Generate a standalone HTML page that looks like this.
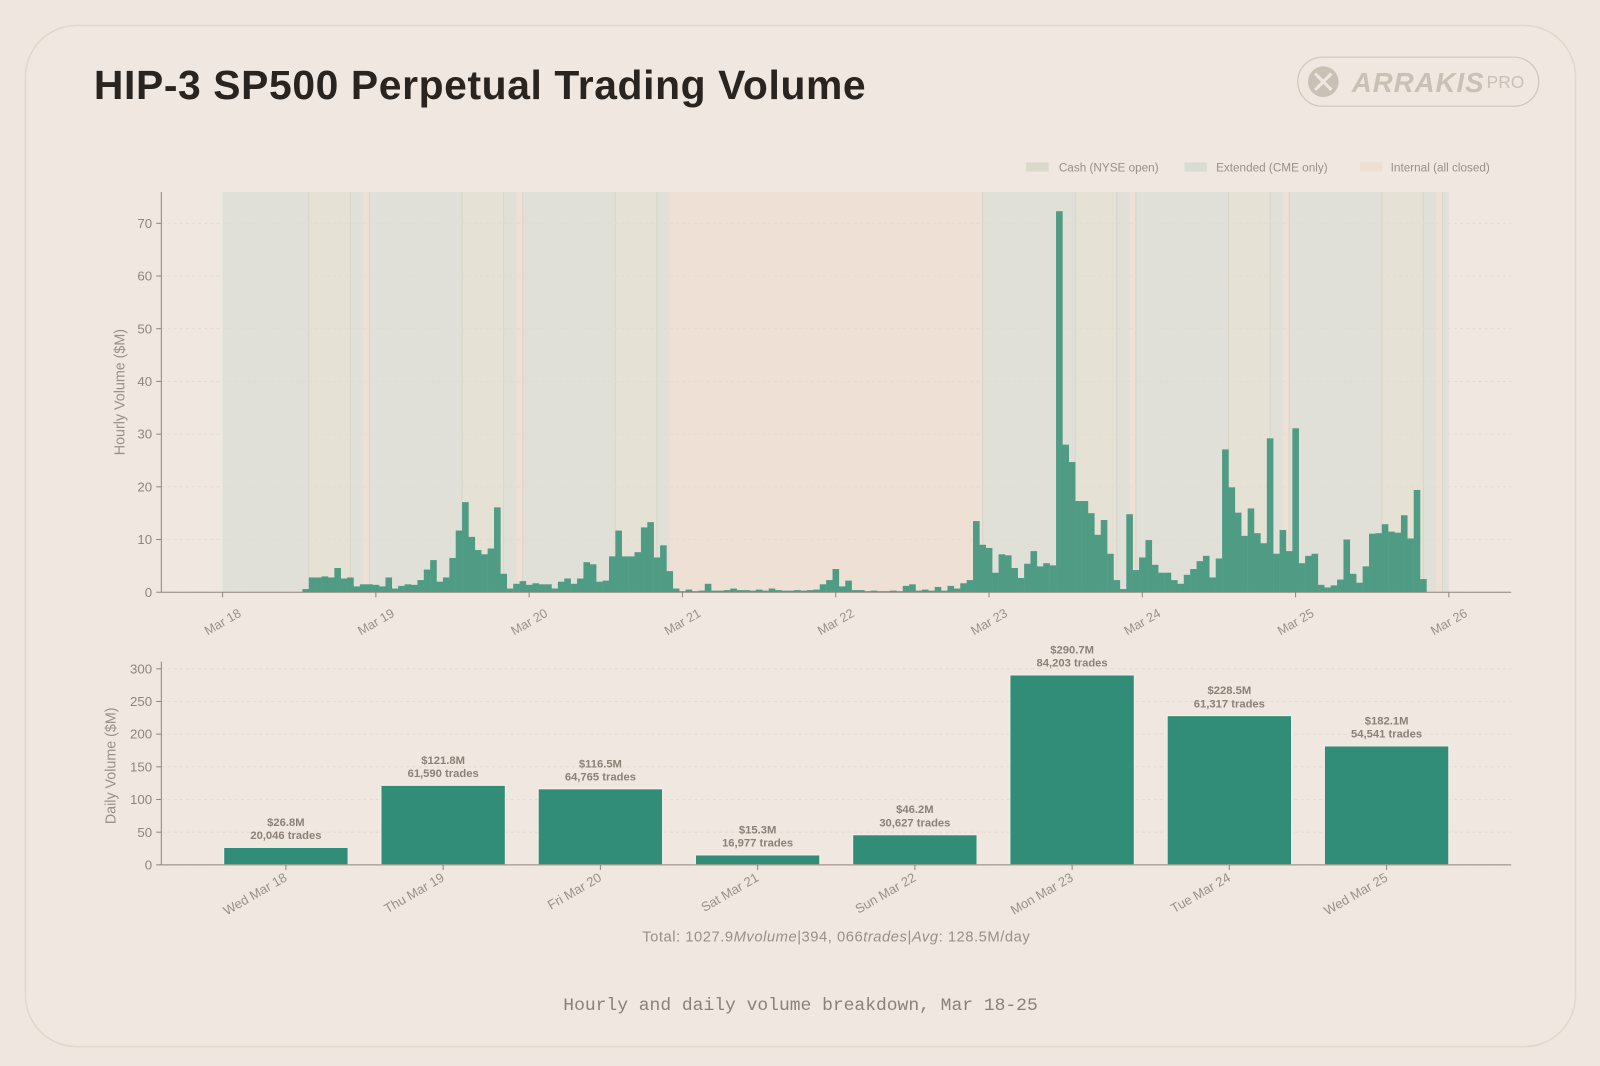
<!DOCTYPE html>
<html><head><meta charset="utf-8"><style>
html,body{margin:0;padding:0;background:#efe6df;}
svg{display:block;}
text{font-family:"Liberation Sans","DejaVu Sans",sans-serif;}
</style></head><body>
<svg id="root" width="1600" height="1066" viewBox="0 0 1567 1044" xmlns="http://www.w3.org/2000/svg">
<rect x="0" y="0" width="1567" height="1044" fill="#efe6df"/>
<rect x="25" y="25" width="1518" height="1000" rx="50" fill="#efe7e0" stroke="#e1d7cb" stroke-width="1.5"/>
<text x="92" y="97" font-size="40" font-weight="bold" fill="#2a2420" letter-spacing="0.6">HIP-3 SP500 Perpetual Trading Volume</text>
<g>
<rect x="1271" y="56" width="236" height="48" rx="24" fill="none" stroke="#d0c7bc" stroke-width="1.2"/>
<circle cx="1296" cy="80" r="15" fill="#c9c0b6"/>
<path d="M1288 72 L1304 88 M1304 72 L1288 88" stroke="#efe7e0" stroke-width="3"/>
<text x="1324" y="90" font-size="27" font-weight="bold" font-style="italic" fill="#c9c0b6" letter-spacing="1">ARRAKIS</text>
<text x="1456" y="86" font-size="17" fill="#c9c0b6">PRO</text>
</g>
<g font-size="11.5" fill="#9a9088">
<g><rect x="1005" y="159" width="22" height="9" fill="#dcd9cc"/><text x="1037" y="168">Cash (NYSE open)</text></g>
<g><rect x="1160" y="159" width="22" height="9" fill="#d7ddd3"/><text x="1191" y="168">Extended (CME only)</text></g>
<g><rect x="1332" y="159" width="22" height="9" fill="#eedfd3"/><text x="1362" y="168">Internal (all closed)</text></g>
</g>
<g id="hourly"></g>
<g id="daily"></g>
<text x="819" y="922" font-size="14.5" fill="#9a9088" text-anchor="middle" letter-spacing="0.5">Total: 1027.9<tspan font-style="italic">Mvolume</tspan>|394, 066<tspan font-style="italic">trades</tspan>|<tspan font-style="italic">Avg</tspan>: 128.5M/day</text>
<text x="784" y="989" font-size="17.6" fill="#8b8178" text-anchor="middle" style="font-family:'Liberation Mono',monospace">Hourly and daily volume breakdown, Mar 18-25</text>
</svg>
<script>
const hourStart = 13;
const hourlyValues = [0.6,2.8,2.8,3.0,2.8,4.6,2.6,2.8,1.1,1.5,1.5,1.4,1.1,2.8,0.7,1.2,1.5,1.4,2.3,4.3,6.1,2.0,2.8,6.5,11.7,17.1,10.5,8.0,7.2,8.3,16.1,3.5,0.7,1.6,2.1,1.4,1.7,1.5,1.5,0.7,2.0,2.6,1.6,2.6,5.7,5.3,2.0,2.2,6.8,11.7,6.8,6.8,7.6,12.3,13.3,6.6,8.9,4.0,0.7,
0.2,0.5,0.2,0.3,1.6,0.3,0.3,0.4,0.7,0.4,0.4,0.3,0.5,0.3,0.7,0.4,0.3,0.3,0.4,0.3,0.4,0.5,1.5,2.3,4.4,1.1,2.2,0.4,0.4,0.2,0.3,0.2,0.2,0.3,0.2,1.2,1.5,0.3,0.5,0.3,1.0,0.3,1.2,0.7,1.7,2.3,13.5,9.0,8.4,3.7,7.2,7.0,4.6,2.7,5.4,7.8,4.9,5.5,5.1,72.3,28.0,24.7,17.3,17.3,15.0,10.9,13.7,7.3,2.3,0.6,14.8,4.2,6.6,9.9,5.2,3.7,3.7,2.3,1.6,3.3,4.4,5.9,6.9,2.8,6.4,27.1,19.9,15.1,10.7,15.9,11.2,9.3,29.2,7.3,11.8,7.8,31.1,5.5,6.9,7.3,1.4,0.9,1.3,2.4,10.0,3.5,1.8,4.9,11.1,11.2,12.9,11.5,11.3,14.6,10.2,19.4,2.5];
const hourTicks = ["Mar 18","Mar 19","Mar 20","Mar 21","Mar 22","Mar 23","Mar 24","Mar 25","Mar 26"];
const hourYTicks = [0,10,20,30,40,50,60,70];
const dayLabels = ["Wed Mar 18","Thu Mar 19","Fri Mar 20","Sat Mar 21","Sun Mar 22","Mon Mar 23","Tue Mar 24","Wed Mar 25"];
const dayVolumes = [26.8,121.8,116.5,15.3,46.2,290.7,228.5,182.1];
const dayTrades = ["20,046","61,590","64,765","16,977","30,627","84,203","61,317","54,541"];
const dayYTicks = [0,50,100,150,200,250,300];

const NS="http://www.w3.org/2000/svg";
function mk(parent,tag,attrs,txt){const e=document.createElementNS(NS,tag);for(const k in attrs)e.setAttribute(k,attrs[k]);if(txt!==undefined)e.textContent=txt;parent.appendChild(e);return e;}

const H=document.getElementById('hourly');
const xh=h=>218+h*6.255;
const yh=v=>580-v*(361.3/70);
const bands=[];
for(let d=0;d<8;d++){
  const wk=(d!==3&&d!==4);
  if(wk){bands.push([d*24+13.5,d*24+20,'#e5e2d5','cash']);}
}
let segs=[[0,192,'#e0e0d9','extended']];
const bg=mk(H,'g',{});


segs.forEach(s=>{const r=mk(bg,'rect',{x:xh(s[0]),y:188,width:xh(s[1])-xh(s[0]),height:392,fill:s[2]});});
bands.forEach(s=>{const r=mk(bg,'rect',{x:xh(s[0]),y:188,width:xh(s[1])-xh(s[0]),height:392,fill:s[2]});
 mk(bg,'line',{x1:xh(s[0]),x2:xh(s[0]),y1:188,y2:580,stroke:'#d8d4c9','stroke-width':1});
 mk(bg,'line',{x1:xh(s[1]),x2:xh(s[1]),y1:188,y2:580,stroke:'#d8d4c9','stroke-width':1});});
const internal=[[22,23],[46,47],[70,119],[142,143],[166,167],[190,191]];
internal.forEach(s=>{const r=mk(bg,'rect',{x:xh(s[0]),y:188,width:xh(s[1])-xh(s[0]),height:392,fill:'#eee0d4'});
 mk(bg,'line',{x1:xh(s[1]),x2:xh(s[1]),y1:188,y2:580,stroke:'#d8d4c9','stroke-width':1});});
hourYTicks.forEach(v=>{
  mk(H,'line',{x1:158,x2:1480,y1:yh(v),y2:yh(v),stroke:'#e3d9cd','stroke-width':0.8,'stroke-dasharray':'3,3'});
  mk(H,'line',{x1:153,x2:158,y1:yh(v),y2:yh(v),stroke:'#8f857c'});
  const t=mk(H,'text',{x:149,y:yh(v)+4.5,'font-size':13,fill:'#8f857c','text-anchor':'end'},String(v));
  
  
});
hourlyValues.forEach((v,i)=>{const h=hourStart+i;
  const b=mk(H,'rect',{x:xh(h-0.5),y:yh(v),width:xh(h+0.5)-xh(h-0.5)+0.2,height:580-yh(v),fill:'#4f9b84'});
  
  
});
mk(H,'line',{x1:158,x2:158,y1:188,y2:580,stroke:'#8f857c','stroke-width':1});
mk(H,'line',{x1:158,x2:1480,y1:580,y2:580,stroke:'#8f857c','stroke-width':1});
hourTicks.forEach((l,i)=>{const x=xh(i*24);
  mk(H,'line',{x1:x,x2:x,y1:580,y2:585,stroke:'#8f857c'});
  const tx=x+19, ty=603;
  const t=mk(H,'text',{x:tx,y:ty,'font-size':12.5,fill:'#9a9088','text-anchor':'end',transform:`rotate(-30 ${tx} ${ty})`},l);
  
  
});
const yt=mk(H,'text',{x:122,y:384,'font-size':14,fill:'#9a9088','text-anchor':'middle',transform:'rotate(-90 122 384)'},'Hourly Volume ($M)');



const D=document.getElementById('daily');
const xd=i=>280+i*154;
const yd=v=>847-v*(192/300);
dayYTicks.forEach(v=>{
  mk(D,'line',{x1:158,x2:1480,y1:yd(v),y2:yd(v),stroke:'#e3d9cd','stroke-width':0.8,'stroke-dasharray':'3,3'});
  mk(D,'line',{x1:153,x2:158,y1:yd(v),y2:yd(v),stroke:'#8f857c'});
  const t=mk(D,'text',{x:149,y:yd(v)+4.5,'font-size':13,fill:'#8f857c','text-anchor':'end'},String(v));
  
  
});
dayVolumes.forEach((v,i)=>{
  const b=mk(D,'rect',{x:xd(i)-61,y:yd(v),width:122,height:847-yd(v),fill:'#318d77',stroke:'#f4eee8','stroke-width':1.2});
  
  
  const t1=mk(D,'text',{x:xd(i),y:yd(v)-21,'font-size':11,'font-weight':'bold',fill:'#8b8178','text-anchor':'middle'},'$'+v.toFixed(1)+'M');
  
  
  const t2=mk(D,'text',{x:xd(i),y:yd(v)-8,'font-size':11,'font-weight':'bold',fill:'#8b8178','text-anchor':'middle'},dayTrades[i]+' trades');
  
  
  mk(D,'line',{x1:xd(i),x2:xd(i),y1:847,y2:852,stroke:'#8f857c'});
  const tx=xd(i)+2, ty=862;
  const t3=mk(D,'text',{x:tx,y:ty,'font-size':12.8,fill:'#9a9088','text-anchor':'end',transform:`rotate(-30 ${tx} ${ty})`},dayLabels[i]);
  
  
});
mk(D,'line',{x1:158,x2:158,y1:648,y2:847,stroke:'#8f857c'});
mk(D,'line',{x1:158,x2:1480,y1:847,y2:847,stroke:'#8f857c'});
const dt=mk(D,'text',{x:113,y:750,'font-size':14,fill:'#9a9088','text-anchor':'middle',transform:'rotate(-90 113 750)'},'Daily Volume ($M)');


</script>
</body></html>
